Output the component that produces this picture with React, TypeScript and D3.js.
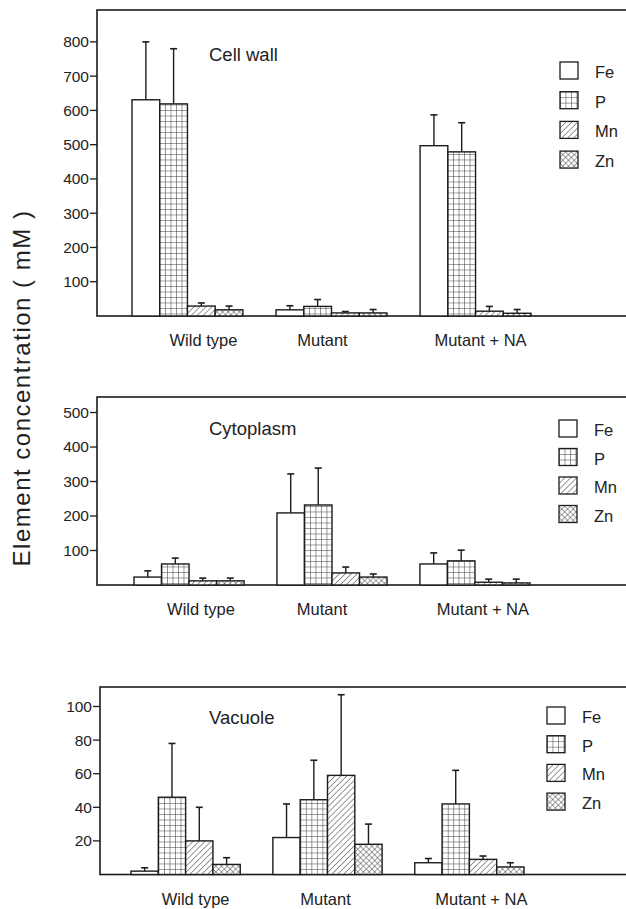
import React from 'react';
import * as d3 from 'd3';

// element concentration (mM), means and upper error (SD)
const groups = ['Wild type', 'Mutant', 'Mutant + NA'];
const elements = ['Fe', 'P', 'Mn', 'Zn'];

const cellWallMean = [[631, 619, 29, 18], [18, 28, 9, 9], [497, 479, 14, 8]];
const cellWallErr = [[169, 161, 9, 11], [12, 20, 4, 10], [90, 85, 14, 11]];
const cytoplasmMean = [[23, 61, 12, 12], [209, 232, 35, 23], [61, 70, 8, 6]];
const cytoplasmErr = [[18, 17, 8, 8], [113, 107, 17, 9], [32, 31, 9, 11]];
const vacuoleMean = [[2, 46, 20, 6], [22, 44.5, 59, 18], [7, 42, 9, 4.5]];
const vacuoleErr = [[2, 32, 20, 4], [20, 23.5, 48, 12], [2.5, 20, 2, 2.5]];

const cellWallTicks = [100, 200, 300, 400, 500, 600, 700, 800];
const cytoplasmTicks = [100, 200, 300, 400, 500];
const vacuoleTicks = [20, 40, 60, 80, 100];

const width = 626;
const height = 909;
const font = 'Liberation Sans, Arial, sans-serif';
const ink = '#1c1c1c';

const fills = ['#fff', 'url(#grid)', 'url(#hatch)', 'url(#cross)'];

const panels = [
  {
    title: 'Cell wall', mean: cellWallMean, err: cellWallErr, ticks: cellWallTicks,
    top: 10, bottom: 316, left: 97, yMax: 893, xRange: [132, 531],
    legendX: 560, legendY: 62, legendStep: 29.7, titleY: 61, labelShift: [16, -9, 5],
  },
  {
    title: 'Cytoplasm', mean: cytoplasmMean, err: cytoplasmErr, ticks: cytoplasmTicks,
    top: 397, bottom: 585, left: 97, yMax: 545, xRange: [134, 530],
    legendX: 559, legendY: 420, legendStep: 28.5, titleY: 435, labelShift: [12, -10, 8],
  },
  {
    title: 'Vacuole', mean: vacuoleMean, err: vacuoleErr, ticks: vacuoleTicks,
    top: 687, bottom: 874.5, left: 100, yMax: 111.6, xRange: [131, 524],
    legendX: 547, legendY: 707, legendStep: 28.7, titleY: 724, labelShift: [10, -2, 12],
  },
];

type Panel = typeof panels[number];

const Chart = ({ p }: { p: Panel }) => {
  const y = d3.scaleLinear().domain([0, p.yMax]).range([p.bottom, p.top]);
  const x0 = d3.scaleBand().domain(groups).range(p.xRange as [number, number]).paddingInner(0.23);
  const x1 = d3.scaleBand().domain(elements).range([0, x0.bandwidth()]);

  return (
    <g>
      <rect x={p.left} y={p.top} width={width + 20 - p.left} height={p.bottom - p.top}
        fill="none" stroke={ink} strokeWidth={1.6} />
      {p.ticks.map(t => (
        <g key={t}>
          <line x1={p.left - 7} x2={p.left} y1={y(t)} y2={y(t)} stroke={ink} strokeWidth={1.3} />
          <text x={p.left - 8} y={y(t)} dy="0.35em" textAnchor="end" fontSize={15.5} fill="#222">{t}</text>
        </g>
      ))}
      <text x={209} y={p.titleY} fontSize={18.5} fill="#222">{p.title}</text>

      {groups.map((g, gi) => (
        <g key={g} transform={`translate(${x0(g)},0)`}>
          {elements.map((e, ei) => {
            const v = p.mean[gi][ei];
            const top = y(v + p.err[gi][ei]);
            const bx = x1(e)!;
            const cx = bx + x1.bandwidth() / 2;
            return (
              <g key={e}>
                <line x1={cx} x2={cx} y1={y(v)} y2={top} stroke={ink} strokeWidth={1.4} />
                <line x1={cx - 3.5} x2={cx + 3.5} y1={top} y2={top} stroke={ink} strokeWidth={1.6} />
                <rect x={bx} y={y(v)} width={x1.bandwidth()} height={p.bottom - y(v)}
                  fill={fills[ei]} stroke={ink} strokeWidth={1.4} />
              </g>
            );
          })}
          <text x={x0.bandwidth() / 2 + p.labelShift[gi]} y={p.bottom + 30} textAnchor="middle"
            fontSize={16.5} fill="#222">{g}</text>
        </g>
      ))}

      {elements.map((e, ei) => (
        <g key={e} transform={`translate(${p.legendX},${p.legendY + ei * p.legendStep})`}>
          <rect x={0} y={0} width={18} height={17} fill={fills[ei]} stroke={ink} strokeWidth={1.3} />
          <text x={35} y={16} fontSize={16.5} fill="#222">{e}</text>
        </g>
      ))}
    </g>
  );
};

export default function App() {
  return (
    <svg width={width} height={height} fontFamily={font}
      style={{ position: 'absolute', left: 0, top: 0, background: '#fff' }}>
      <defs>
        <pattern id="grid" patternUnits="userSpaceOnUse" width={5.5} height={5.5}>
          <rect width={5.5} height={5.5} fill="#fff" />
          <path d="M0 0H5.5M0 0V5.5" stroke="#333" strokeWidth={1} />
        </pattern>
        <pattern id="hatch" patternUnits="userSpaceOnUse" width={4.2} height={4.2} patternTransform="rotate(45)">
          <rect width={4.2} height={4.2} fill="#fff" />
          <line x1={0} y1={0} x2={0} y2={4.2} stroke="#333" strokeWidth={1} />
        </pattern>
        <pattern id="cross" patternUnits="userSpaceOnUse" width={4} height={4} patternTransform="rotate(45)">
          <rect width={4} height={4} fill="#fff" />
          <path d="M0 0V4M0 0H4" stroke="#333" strokeWidth={0.9} />
        </pattern>
      </defs>
      <rect width={width} height={height} fill="#fff" />
      {panels.map(p => <Chart key={p.title} p={p} />)}
      <text transform="translate(30,388) rotate(-90)" textAnchor="middle" fontSize={24}
        letterSpacing={1.5} fill="#222">Element concentration ( mM )</text>
    </svg>
  );
}
